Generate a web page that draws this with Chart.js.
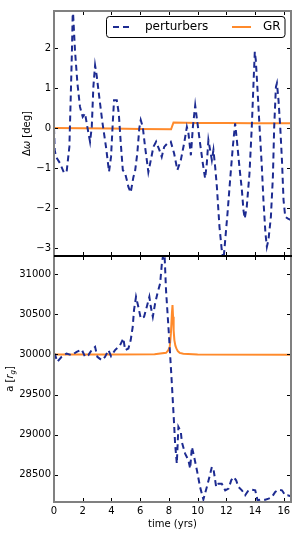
<!DOCTYPE html>
<html>
<head>
<meta charset="utf-8">
<script src="https://cdn.jsdelivr.net/npm/chart.js@4.4.1/dist/chart.umd.min.js"></script>
<style>
html, body { margin: 0; padding: 0; background: #fff; }
#wrap { position: relative; width: 300px; height: 540px; }
canvas { position: absolute; left: 0; }
#top { top: 0; }
#bot { top: 255px; }
</style>
</head>
<body>
<div id="wrap">
<canvas id="top" width="300" height="257"></canvas>
<canvas id="bot" width="300" height="285"></canvas>
</div>
<script>
// ticks
const xTicks = [0, 2, 4, 6, 8, 10, 12, 14, 16];
const omegaTicks = [-3, -2, -1, 0, 1, 2];
const aTicks = [28500, 29000, 29500, 30000, 30500, 31000];

// top panel: precession offset, perturbers
const tOmega = [0, 0.05, 0.14, 0.42, 0.7, 0.88, 1.07, 1.16, 1.25, 1.31, 1.46, 1.63, 1.81, 2.0, 2.16, 2.32, 2.51, 2.63, 2.74, 2.86, 2.97,
  3.15, 3.38, 3.62, 3.83, 3.97, 4.09, 4.18, 4.37, 4.51, 4.65, 4.79, 4.95, 5.07, 5.18, 5.34, 5.53, 5.64, 5.8, 5.94, 6.04, 6.18,
  6.34, 6.57, 6.74, 6.92, 7.11, 7.34, 7.5, 7.67, 7.9, 8.13, 8.36, 8.59, 8.83, 9.06, 9.25, 9.36, 9.53, 9.67, 9.83, 9.99,
  10.17, 10.36, 10.52, 10.64, 10.75, 10.87, 10.99, 11.1, 11.22, 11.34, 11.52, 11.68, 11.8, 11.92, 12.08, 12.26, 12.45,
  12.61, 12.73, 12.91, 13.08, 13.19, 13.28, 13.42, 13.61, 13.77, 13.89, 13.98, 14.05, 14.17, 14.31, 14.47, 14.58, 14.72,
  14.82, 14.93, 15.1, 15.24, 15.33, 15.45, 15.52, 15.63, 15.75, 15.87, 15.98, 16.1, 16.26, 16.5];
const omegaPert = [0, -0.55, -0.72, -0.88, -1.12, -1.09, -0.47, 0.7, 1.95, 3.0, 1.95, 1.12, 0.53, 0.28, 0.37, 0.03, -0.34, 0.03,
  1.03, 1.57, 1.32, 0.78, 0.12, -0.47, -1.09, -0.72, 0.12, 0.7, 0.7, 0.37, -0.38, -1.05, -1.13, -1.3, -1.47, -1.61, -1.22,
  -1.09, -0.63, 0.0, 0.2, 0.03, -0.47, -1.1, -0.8, -0.47, -0.34, -0.55, -0.72, -0.47, -0.38, -0.34, -0.63, -1.05, -0.8,
  -0.38, 0.03, -0.13, -0.68, 0.03, 0.57, 0.12, -0.38, -0.88, -1.26, -0.88, -0.3, -0.55, -0.8, -0.55, -0.97, -1.47, -2.47,
  -3.05, -3.3, -2.8, -2.13, -1.3, -0.47, 0.12, -0.3, -0.97, -1.55, -2.05, -2.26, -1.97, -1.13, 0.03, 1.12, 1.91, 1.7, 0.95,
  0.03, -0.97, -1.8, -2.63, -2.97, -2.8, -2.22, -1.22, 0.03, 1.03, 1.12, 0.7, 0.03, -0.8, -1.8, -2.22, -2.26, -2.3];

// top panel: GR only
const tOmegaGR = [0, 2, 4, 6, 8.15, 8.32, 10, 12, 14, 16.5];
const omegaGR = [0, -0.005, -0.01, -0.02, -0.03, 0.14, 0.13, 0.125, 0.12, 0.12];

// bottom panel: semi-major axis, perturbers
const tA = [0, 0.07, 0.23, 0.53, 0.88, 1.23, 1.58, 1.93, 2.16, 2.39, 2.62, 2.86, 3.02, 3.32, 3.55, 3.79, 3.97, 4.25, 4.6,
  4.83, 4.95, 5.18, 5.34, 5.48, 5.57, 5.71, 5.87, 6.04, 6.27, 6.46, 6.64, 6.74, 6.88, 7.04, 7.2, 7.39, 7.51, 7.62, 7.68,
  7.8, 8.0, 8.2, 8.36, 8.43, 8.55, 8.66, 8.83, 8.9, 9.13, 9.36, 9.48, 9.6, 9.71, 9.95, 10.17, 10.4, 10.64, 10.82, 10.99,
  11.1, 11.29, 11.45, 11.68, 11.92, 12.15, 12.34, 12.5, 12.68, 12.84, 13.08, 13.31, 13.54, 13.78, 14.01, 14.17, 14.36,
  14.71, 14.94, 15.17, 15.4, 15.63, 15.87, 16.1, 16.26, 16.5];
const aPert = [30012, 30000, 29908, 29970, 30012, 29991, 30033, 30062, 29970, 29991, 30054, 30095, 29970, 29929, 29970,
  30054, 29979, 30054, 30116, 30200, 30054, 30075, 30179, 30345, 30554, 30720, 30595, 30450, 30470, 30595, 30720, 30595,
  30470, 30637, 30762, 30887, 31137, 31262, 31320, 30800, 30250, 29650, 29137, 28887, 28637, 29095, 29033, 28908, 28762,
  28679, 28575, 28845, 28762, 28554, 28345, 28190, 28345, 28470, 28595, 28575, 28345, 28387, 28387, 28304, 28325, 28429,
  28470, 28429, 28345, 28304, 28242, 28304, 28312, 28304, 28179, 28187, 28187, 28200, 28220, 28283, 28312, 28304, 28242,
  28242, 28230];

// bottom panel: GR only
const tAGR = [0, 4, 7, 7.8, 7.95, 8.06, 8.14, 8.21, 8.25, 8.29, 8.33, 8.38, 8.45, 8.52, 8.62, 8.75, 9, 10, 16.5];
const aGR = [29998, 30000, 30004, 30020, 30050, 30095, 30266, 30516, 30616, 30470, 30300, 30179, 30110, 30075, 30040,
  30020, 30008, 30000, 29996];

const blue = '#1d2b91';
const orange = '#ff8a2b';
const spineGray = '#808080';

Chart.defaults.font.family = 'DejaVu Sans';
Chart.defaults.font.size = 10;
Chart.defaults.color = '#000';

function pts(xs, ys) { return xs.map((x, i) => ({ x: x, y: ys[i] })); }

function fmt(v) { return v < 0 ? '\u2212' + Math.abs(v) : String(v); }

function drawFrame(chart, yTicks, drawTop) {
  const ctx = chart.ctx, a = chart.chartArea;
  const xs = chart.scales.x, ys = chart.scales.y;
  ctx.save();
  ctx.strokeStyle = '#000';
  ctx.lineWidth = 1;
  ctx.beginPath();
  xTicks.forEach(v => {
    const px = Math.round(xs.getPixelForValue(v)) + 0.5;
    ctx.moveTo(px, a.top); ctx.lineTo(px, a.top + 4);
    ctx.moveTo(px, a.bottom); ctx.lineTo(px, a.bottom - 4);
  });
  yTicks.forEach(v => {
    const py = Math.round(ys.getPixelForValue(v)) + 0.5;
    ctx.moveTo(a.left, py); ctx.lineTo(a.left + 4, py);
    ctx.moveTo(a.right, py); ctx.lineTo(a.right - 4, py);
  });
  ctx.stroke();
  ctx.strokeStyle = spineGray;
  ctx.lineWidth = 2;
  ctx.beginPath();
  ctx.moveTo(a.left, a.top); ctx.lineTo(a.left, a.bottom);
  ctx.moveTo(a.right, a.top); ctx.lineTo(a.right, a.bottom);
  if (drawTop) { ctx.moveTo(a.left - 1, a.top); ctx.lineTo(a.right + 1, a.top); }
  else { ctx.moveTo(a.left - 1, a.bottom); ctx.lineTo(a.right + 1, a.bottom); }
  ctx.stroke();
  ctx.strokeStyle = '#000';
  ctx.lineWidth = 1;
  ctx.beginPath();
  const dy = drawTop ? Math.round(a.bottom) - 0.5 : Math.round(a.top) + 0.5;
  ctx.moveTo(a.left, dy); ctx.lineTo(a.right + 1, dy);
  ctx.stroke();
  ctx.restore();
}

// rotated axis label made of pieces: plain, italic, subscript
function drawYLabel(ctx, cx, cy, parts) {
  ctx.save();
  ctx.translate(cx, cy);
  ctx.rotate(-Math.PI / 2);
  ctx.textBaseline = 'middle';
  ctx.fillStyle = '#000';
  const fontOf = p => (p.italic ? 'italic ' : '') + (p.sub ? '7px' : '10px') + ' "DejaVu Sans"';
  let w = 0;
  parts.forEach(p => { ctx.font = fontOf(p); w += ctx.measureText(p.t).width; });
  let x = -w / 2;
  parts.forEach(p => {
    ctx.font = fontOf(p);
    ctx.fillText(p.t, x, p.sub ? 2.5 : 0);
    x += ctx.measureText(p.t).width;
  });
  ctx.restore();
}

function drawLegend(chart) {
  const ctx = chart.ctx;
  const ds = chart.data.datasets;
  ctx.save();
  ctx.beginPath();
  ctx.roundRect(106.5, 16.5, 178.5, 21, 3);
  ctx.fillStyle = '#fff';
  ctx.fill();
  ctx.strokeStyle = '#000';
  ctx.lineWidth = 1;
  ctx.stroke();
  ctx.lineWidth = 2;
  ctx.strokeStyle = blue;
  ctx.setLineDash([6, 4]);
  ctx.beginPath(); ctx.moveTo(113, 27); ctx.lineTo(129, 27); ctx.stroke();
  ctx.setLineDash([]);
  ctx.strokeStyle = orange;
  ctx.beginPath(); ctx.moveTo(232, 27); ctx.lineTo(251, 27); ctx.stroke();
  ctx.fillStyle = '#000';
  ctx.font = '12px "DejaVu Sans"';
  ctx.textBaseline = 'middle';
  ctx.fillText(ds[0].label, 145, 27);
  ctx.fillText(ds[1].label, 263, 27);
  ctx.restore();
}

function setTicks(arr) {
  return scale => { scale.ticks = arr.map(v => ({ value: v })); };
}

// fixed box sizes, no label overflow padding
function fitBox(w, h) {
  return s => {
    if (w !== null) s.width = w;
    if (h !== null) s.height = h;
    s.paddingTop = 0; s.paddingBottom = 0; s.paddingLeft = 0; s.paddingRight = 0;
  };
}

new Chart(document.getElementById('top'), {
  type: 'line',
  data: {
    datasets: [
      { label: 'perturbers', data: pts(tOmega, omegaPert), borderColor: blue, borderWidth: 2, borderDash: [6, 4],
        pointRadius: 0, tension: 0, clip: 0 },
      { label: 'GR', data: pts(tOmegaGR, omegaGR), borderColor: orange, borderWidth: 2, pointRadius: 0, tension: 0, clip: 0 }
    ]
  },
  options: {
    responsive: false,
    animation: false,
    devicePixelRatio: 1,
    layout: { padding: { top: 11, right: 9, left: 0, bottom: 0 } },
    plugins: { legend: { display: false }, tooltip: { enabled: false } },
    scales: {
      x: {
        type: 'linear', min: 0, max: 16.5,
        afterBuildTicks: setTicks(xTicks),
        afterFit: fitBox(null, 1),
        ticks: { display: false },
        grid: { display: false, drawTicks: false },
        border: { display: false }
      },
      y: {
        min: -3.2, max: 2.93,
        afterBuildTicks: setTicks(omegaTicks),
        afterFit: fitBox(54, null),
        ticks: { callback: v => fmt(v), padding: 3 },
        grid: { display: false, drawTicks: false },
        border: { display: false }
      }
    }
  },
  plugins: [{
    id: 'frameTop',
    afterDraw(chart) {
      drawFrame(chart, omegaTicks, true);
      drawLegend(chart);
      drawYLabel(chart.ctx, 27, (chart.chartArea.top + chart.chartArea.bottom) / 2,
        [{ t: '\u0394' }, { t: '\u03c9', italic: true }, { t: ' [deg]' }]);
    }
  }]
});

new Chart(document.getElementById('bot'), {
  type: 'line',
  data: {
    datasets: [
      { label: 'perturbers', data: pts(tA, aPert), borderColor: blue, borderWidth: 2, borderDash: [6, 4],
        pointRadius: 0, tension: 0, clip: 0 },
      { label: 'GR', data: pts(tAGR, aGR), borderColor: orange, borderWidth: 2, pointRadius: 0, tension: 0, clip: 0 }
    ]
  },
  options: {
    responsive: false,
    animation: false,
    devicePixelRatio: 1,
    layout: { padding: { top: 1, right: 9, left: 0, bottom: 0 } },
    plugins: { legend: { display: false }, tooltip: { enabled: false } },
    scales: {
      x: {
        type: 'linear', min: 0, max: 16.5,
        afterBuildTicks: setTicks(xTicks),
        afterFit: fitBox(null, 38),
        ticks: { padding: 3, maxRotation: 0, autoSkip: false, callback: v => fmt(v) },
        grid: { display: false, drawTicks: false },
        border: { display: false },
        title: { display: true, text: 'time (yrs)', padding: { top: 0, bottom: 10 } }
      },
      y: {
        min: 28158, max: 31229,
        afterBuildTicks: setTicks(aTicks),
        afterFit: fitBox(54, null),
        ticks: { callback: v => String(v), padding: 3 },
        grid: { display: false, drawTicks: false },
        border: { display: false }
      }
    }
  },
  plugins: [{
    id: 'frameBot',
    afterDraw(chart) {
      drawFrame(chart, aTicks, false);
      drawYLabel(chart.ctx, 10.5, (chart.chartArea.top + chart.chartArea.bottom) / 2,
        [{ t: 'a [' }, { t: 'r', italic: true }, { t: 'g', italic: true, sub: true }, { t: ']' }]);
    }
  }]
});
</script>
</body>
</html>
